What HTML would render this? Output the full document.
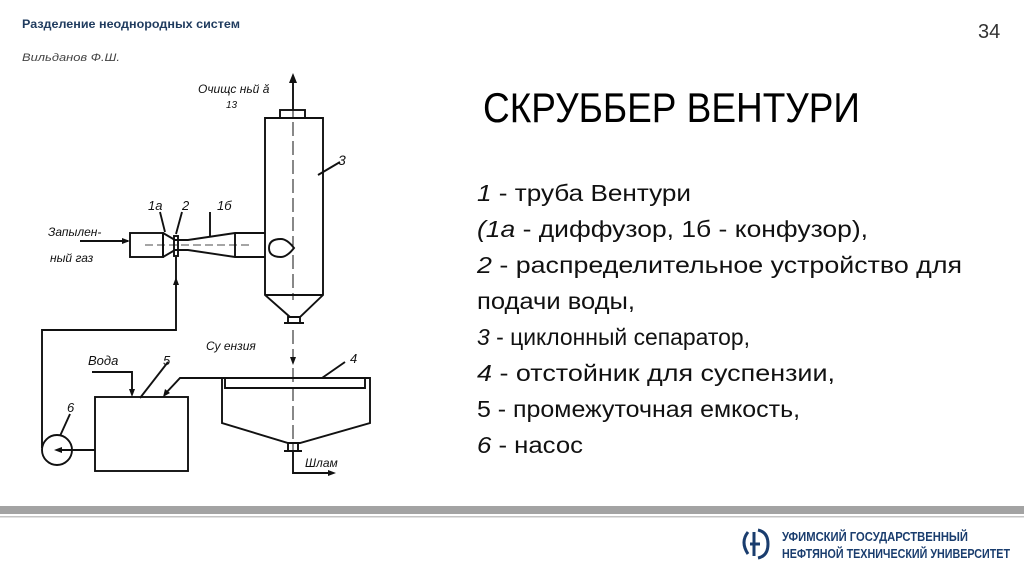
<!DOCTYPE html>
<html><head><meta charset="utf-8"><style>
body{margin:0;background:#fff}
svg{display:block}
</style></head><body>
<svg width="1024" height="576" viewBox="0 0 1024 576" xmlns="http://www.w3.org/2000/svg" font-family="Liberation Sans, DejaVu Sans, sans-serif">
<text x="22" y="28" font-size="12" font-weight="bold" fill="#1f3b5e" textLength="218" lengthAdjust="spacingAndGlyphs">Разделение неоднородных систем</text>
<text x="22" y="61" font-size="11" font-style="italic" fill="#444" textLength="98" lengthAdjust="spacingAndGlyphs">Вильданов Ф.Ш.</text>
<text x="978" y="38" font-size="20" fill="#333">34</text>

<g fill="none" stroke="#111" stroke-width="1.9">
<path d="M265 118 V295 L290 317 H300 L323 295 V118 Z"/>
<line x1="265" y1="295" x2="323" y2="295"/>
<rect x="280" y="110" width="25" height="8"/>
<rect x="288" y="317" width="12" height="6"/>
<line x1="284" y1="323" x2="304" y2="323"/>
<line x1="293" y1="110" x2="293" y2="80"/>
<line x1="293" y1="84" x2="293" y2="300" stroke-dasharray="14 5" stroke-width="1"/>
<path d="M281 239 q-12 0 -12 9 q0 9 12 9 q6 0 13 -9 q-7 -9 -13 -9z"/>
<rect x="130" y="233" width="33" height="24"/>
<path d="M163 233 L175 240 H188 L235 233 H265 M163 257 L175 250 H188 L235 257 H265"/>
<line x1="235" y1="233" x2="235" y2="257"/>
<line x1="163" y1="233" x2="163" y2="257"/>
<rect x="174" y="236" width="4" height="20"/>
<line x1="145" y1="245" x2="250" y2="245" stroke-width="0.8" stroke-dasharray="8 4"/>
<line x1="80" y1="241" x2="128" y2="241"/>
<path d="M176 257 V330 H42 V448"/>
<circle cx="57" cy="450" r="15"/>
<line x1="95" y1="450" x2="62" y2="450"/>
<rect x="95" y="397" width="93" height="74"/>
<path d="M92 372 H132 V394"/>
<path d="M222 378 H180 L165 394"/>
<path d="M222 378 H370 V423 L300 443 H288 L222 423 Z"/>
<path d="M225 378 V388 H365 V378" />
<line x1="293" y1="330" x2="293" y2="470" stroke-dasharray="14 5" stroke-width="1"/>
<rect x="288" y="443" width="10" height="8"/>
<line x1="284" y1="451" x2="302" y2="451"/>
<path d="M293 451 V473 H330"/>
<line x1="160" y1="212" x2="165" y2="232"/>
<line x1="182" y1="212" x2="176" y2="234"/>
<line x1="210" y1="212" x2="210" y2="236"/>
<line x1="340" y1="162" x2="318" y2="175"/>
<line x1="345" y1="362" x2="322" y2="378"/>
<line x1="168" y1="362" x2="140" y2="398"/>
<line x1="70" y1="414" x2="60" y2="436"/>
</g>
<g fill="#111">
<path d="M293 73 l-4 10 h8z"/>
<path d="M130 241 l-8 -3 v6z"/>
<path d="M176 277 l-3 8 h6z"/>
<path d="M132 397 l-3 -8 h6z"/>
<path d="M163 397 l2 -8 l5 4z"/>
<path d="M54 450 l8 -3 v6z"/>
<path d="M293 365 l-3 -8 h6z"/>
<path d="M336 473 l-8 -3 v6z"/>
</g>
<g font-style="italic" font-size="12" fill="#111">
<text x="198" y="93">Очищс  ньй  ă</text>
<text x="226" y="108" font-size="10">13</text>
<text x="338" y="165" font-size="14">3</text>
<text x="148" y="210" font-size="13">1а</text>
<text x="182" y="210" font-size="13">2</text>
<text x="217" y="210" font-size="13">1б</text>
<text x="48" y="236">Запылен-</text>
<text x="50" y="262">ный газ</text>
<text x="206" y="350">Су  ензия</text>
<text x="88" y="365" font-size="13">Вода</text>
<text x="163" y="365" font-size="13">5</text>
<text x="350" y="363" font-size="13">4</text>
<text x="67" y="412" font-size="13">6</text>
<text x="305" y="467" font-size="12">Шлам</text>
</g>

<text x="483" y="122" font-size="42" fill="#000" textLength="377" lengthAdjust="spacingAndGlyphs">СКРУББЕР ВЕНТУРИ</text>
<g font-size="23" fill="#111">
<text x="477" y="201" textLength="214" lengthAdjust="spacingAndGlyphs"><tspan font-style="italic">1</tspan> - труба Вентури</text>
<text x="477" y="237" textLength="391" lengthAdjust="spacingAndGlyphs"><tspan font-style="italic">(1а</tspan> - диффузор, 1б - конфузор),</text>
<text x="477" y="273" textLength="485" lengthAdjust="spacingAndGlyphs"><tspan font-style="italic">2</tspan> - распределительное устройство для</text>
<text x="477" y="309" textLength="158" lengthAdjust="spacingAndGlyphs">подачи воды,</text>
<text x="477" y="345" textLength="273" lengthAdjust="spacingAndGlyphs"><tspan font-style="italic">3</tspan> - циклонный сепаратор,</text>
<text x="477" y="381" textLength="358" lengthAdjust="spacingAndGlyphs"><tspan font-style="italic">4</tspan> - отстойник для суспензии,</text>
<text x="477" y="417" textLength="323" lengthAdjust="spacingAndGlyphs">5 - промежуточная емкость,</text>
<text x="477" y="453" textLength="106" lengthAdjust="spacingAndGlyphs"><tspan font-style="italic">6</tspan> - насос</text>
</g>

<rect x="0" y="506" width="1024" height="8" fill="#a3a3a3"/>
<rect x="0" y="516" width="1024" height="1.5" fill="#c4c4c4"/>
<g fill="none" stroke="#1a3d6e" stroke-width="3">
<path d="M748 532 q-8 10 0 22"/>
<path d="M758 530 q10 2 10 14 q0 12 -10 14"/>
<path d="M754 532 v24 M750 544 h10"/>
</g>
<g font-weight="bold" font-size="13" fill="#1a3d6e">
<text x="782" y="541" textLength="186" lengthAdjust="spacingAndGlyphs">УФИМСКИЙ ГОСУДАРСТВЕННЫЙ</text>
<text x="782" y="558" textLength="228" lengthAdjust="spacingAndGlyphs">НЕФТЯНОЙ ТЕХНИЧЕСКИЙ УНИВЕРСИТЕТ</text>
</g>
</svg>
</body></html>
